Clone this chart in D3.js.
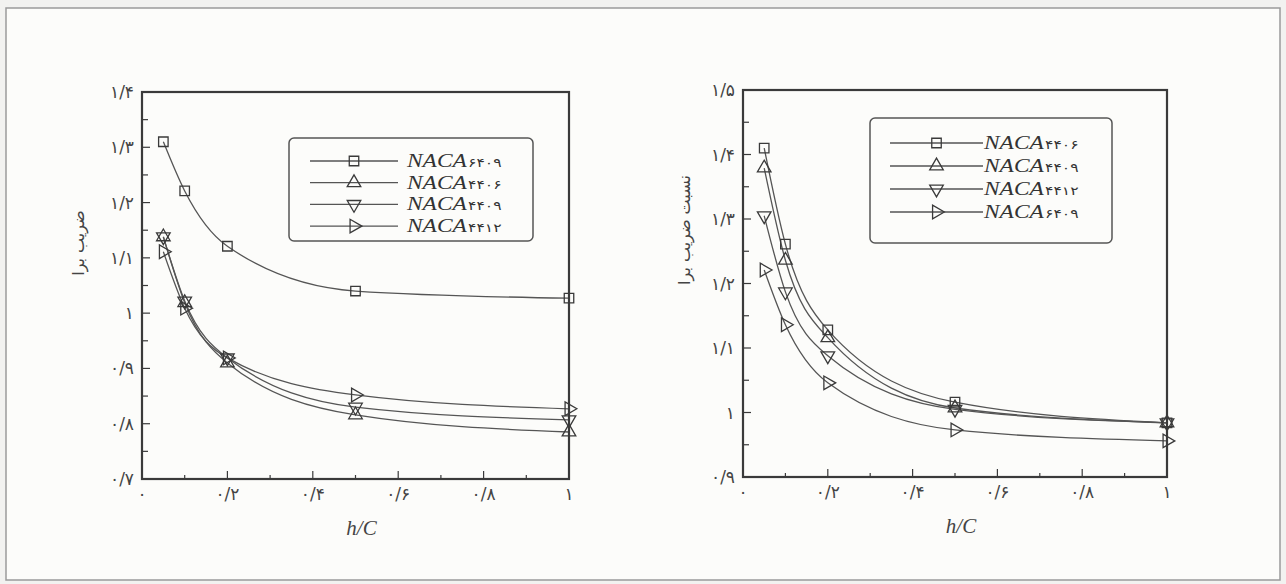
<!doctype html>
<html lang="fa">
<head>
    <meta charset="UTF-8">
    <title>Lift ratio vs h/C</title>
    <script src="https://d3js.org/d3.v7.min.js"></script>
    <style>
        body { margin: 0; background: #f2f2f0; }
        svg { display: block; }
    </style>
</head>
<body>
<div id="chart-area"></div>

<script>

// h/C values where data was measured
const hc = [0.05, 0.1, 0.2, 0.5, 1.0];

// left panel: lift coefficient
const leftNames = ['6409', '4406', '4409', '4412'];
const leftNaca6409 = [1.310, 1.221, 1.121, 1.040, 1.027];
const leftNaca4406 = [1.138, 1.019, 0.910, 0.816, 0.785];
const leftNaca4409 = [1.138, 1.022, 0.919, 0.830, 0.807];
const leftNaca4412 = [1.111, 1.009, 0.919, 0.852, 0.827];

// right panel: lift coefficient ratio
const rightNames = ['4406', '4409', '4412', '6409'];
const rightNaca4406 = [1.410, 1.261, 1.128, 1.016, 0.984];
const rightNaca4409 = [1.379, 1.236, 1.116, 1.007, 0.984];
const rightNaca4412 = [1.305, 1.187, 1.088, 1.005, 0.984];
const rightNaca6409 = [1.221, 1.136, 1.046, 0.973, 0.956];

const xTicks = [0, 0.2, 0.4, 0.6, 0.8, 1];
const leftYTicks = [0.7, 0.8, 0.9, 1.0, 1.1, 1.2, 1.3, 1.4];
const rightYTicks = [0.9, 1.0, 1.1, 1.2, 1.3, 1.4, 1.5];

const leftTitle = 'ضریب برا';
const rightTitle = 'نسبت ضریب برا';
const xTitle = 'h/C';

const W = 1286, H = 584;
const ink = '#3a3a3a';

const faDigits = '۰۱۲۳۴۵۶۷۸۹';
const toFa = s => String(s).replace(/[0-9]/g, c => faDigits[+c]).replace('.', '/');
const fmt = v => toFa(+v.toFixed(2));

const svg = d3.select('#chart-area')
    .append('svg')
    .attr('width', W)
    .attr('height', H);

// page frame
svg.append('rect')
    .attr('x', 6).attr('y', 8)
    .attr('width', 1274).attr('height', 572)
    .attr('fill', '#fcfcfa')
    .attr('stroke', '#9a9a9a')
    .attr('stroke-width', 1.5);

const markers = {
    square: d3.symbol().type(d3.symbolSquare).size(90),
    up: d3.symbol().type(d3.symbolTriangle).size(80),
};

function marker(sel, kind) {
    if (kind === 'square') {
        sel.append('path').attr('d', markers.square());
    } else {
        const rot = { up: 0, down: 180, right: 90 }[kind];
        sel.append('path').attr('d', markers.up()).attr('transform', `rotate(${rot})`);
    }
    sel.selectAll('path')
        .attr('fill', 'none')
        .attr('stroke', ink)
        .attr('stroke-width', 1.3);
}

function panel(cfg) {
    const x = d3.scaleLinear().domain([0, 1]).range(cfg.xr);
    const y = d3.scaleLinear().domain(cfg.yd).range(cfg.yr);
    const g = svg.append('g');

    // minor + major ticks, pointing inward
    const yMinor = d3.range(cfg.yd[0] + 0.05, cfg.yd[1], 0.1);
    const xMinor = d3.range(0.1, 1, 0.2);

    g.selectAll('.ytk').data(cfg.yTicks.concat(yMinor)).enter()
        .append('line')
            .attr('x1', cfg.xr[0]).attr('x2', (d, i) => cfg.xr[0] + (i < cfg.yTicks.length ? 8 : 6))
            .attr('y1', d => y(d)).attr('y2', d => y(d))
            .attr('stroke', ink).attr('stroke-width', 1.2);

    g.selectAll('.xtk').data(xTicks.concat(xMinor)).enter()
        .append('line')
            .attr('x1', d => x(d)).attr('x2', d => x(d))
            .attr('y1', cfg.yr[0]).attr('y2', (d, i) => cfg.yr[0] - (i < xTicks.length ? 8 : 4))
            .attr('stroke', ink).attr('stroke-width', 1.2);

    g.selectAll('.ylab').data(cfg.yTicks).enter()
        .append('text')
            .attr('x', cfg.xr[0] - 8)
            .attr('y', d => y(d) + 6)
            .attr('text-anchor', 'end')
            .attr('font-family', 'DejaVu Sans')
            .attr('font-size', 17)
            .attr('fill', '#444')
            .text(fmt);

    g.selectAll('.xlab').data(xTicks).enter()
        .append('text')
            .attr('x', d => x(d))
            .attr('y', cfg.yr[0] + 21)
            .attr('text-anchor', 'middle')
            .attr('font-family', 'DejaVu Sans')
            .attr('font-size', 17)
            .attr('fill', '#444')
            .text(fmt);

    g.append('text')
        .attr('x', (cfg.xr[0] + cfg.xr[1]) / 2 + 6)
        .attr('y', cfg.yr[0] + 56)
        .attr('text-anchor', 'middle')
        .attr('font-family', 'Liberation Serif')
        .attr('font-style', 'italic')
        .attr('font-size', 21)
        .attr('fill', '#444')
        .text(xTitle);

    g.append('text')
        .attr('transform', `translate(${cfg.titleX},${cfg.titleY}) rotate(-90)`)
        .attr('text-anchor', 'middle')
        .attr('font-family', 'DejaVu Sans')
        .attr('font-size', 16)
        .attr('fill', '#444')
        .text(cfg.title);

    // curves
    const line = d3.line()
        .x((d, i) => x(hc[i]))
        .y(d => y(d))
        .curve(d3.curveMonotoneX);

    cfg.series.forEach(s => {
        g.append('path')
            .attr('d', line(s.values))
            .attr('fill', 'none')
            .attr('stroke', '#555')
            .attr('stroke-width', 1.3);
    });
    cfg.series.forEach(s => {
        s.values.forEach((v, i) => {
            const m = g.append('g').attr('transform', `translate(${x(hc[i])},${y(v)})`);
            marker(m, s.marker);
        });
    });

    // frame
    g.append('rect')
        .attr('x', cfg.xr[0]).attr('y', cfg.yr[1])
        .attr('width', cfg.xr[1] - cfg.xr[0])
        .attr('height', cfg.yr[0] - cfg.yr[1])
        .attr('fill', 'none')
        .attr('stroke', ink)
        .attr('stroke-width', 2.2);

    // legend
    const L = cfg.legend;
    g.append('rect')
        .attr('x', L.x).attr('y', L.y)
        .attr('width', L.w).attr('height', L.h)
        .attr('rx', 5)
        .attr('fill', '#fcfcfa')
        .attr('stroke', '#555')
        .attr('stroke-width', 1.5);

    cfg.series.forEach((s, i) => {
        const cy = L.row0 + i * L.step;
        g.append('line')
            .attr('x1', L.lx0).attr('x2', L.lx1)
            .attr('y1', cy).attr('y2', cy)
            .attr('stroke', '#555').attr('stroke-width', 1.3);
        marker(g.append('g').attr('transform', `translate(${(L.lx0 + L.lx1) / 2},${cy})`), s.marker);
        const t = g.append('text')
            .attr('transform', `translate(${L.tx},${cy + 6}) scale(1.3,1)`)
            .attr('fill', '#333');
        t.append('tspan')
            .attr('font-family', 'Liberation Serif')
            .attr('font-style', 'italic')
            .attr('font-size', 18)
            .text('NACA');
        t.append('tspan')
            .attr('font-family', 'DejaVu Sans')
            .attr('font-size', 12)
            .attr('dx', 1)
            .text(toFa(s.name));
    });
}

panel({
    xr: [142, 569], yr: [479, 92], yd: [0.7, 1.4], yTicks: leftYTicks,
    title: leftTitle, titleX: 84, titleY: 243,
    series: [
        { name: leftNames[0], values: leftNaca6409, marker: 'square' },
        { name: leftNames[1], values: leftNaca4406, marker: 'up' },
        { name: leftNames[2], values: leftNaca4409, marker: 'down' },
        { name: leftNames[3], values: leftNaca4412, marker: 'right' },
    ],
    legend: { x: 289, y: 138, w: 244, h: 103, row0: 161, step: 21.7, lx0: 310, lx1: 398, tx: 407 },
});

panel({
    xr: [743, 1167], yr: [477, 90], yd: [0.9, 1.5], yTicks: rightYTicks,
    title: rightTitle, titleX: 690, titleY: 230,
    series: [
        { name: rightNames[0], values: rightNaca4406, marker: 'square' },
        { name: rightNames[1], values: rightNaca4409, marker: 'up' },
        { name: rightNames[2], values: rightNaca4412, marker: 'down' },
        { name: rightNames[3], values: rightNaca6409, marker: 'right' },
    ],
    legend: { x: 870, y: 118, w: 242, h: 125, row0: 143, step: 23, lx0: 890, lx1: 983, tx: 984 },
});

</script>
</body>
</html>
